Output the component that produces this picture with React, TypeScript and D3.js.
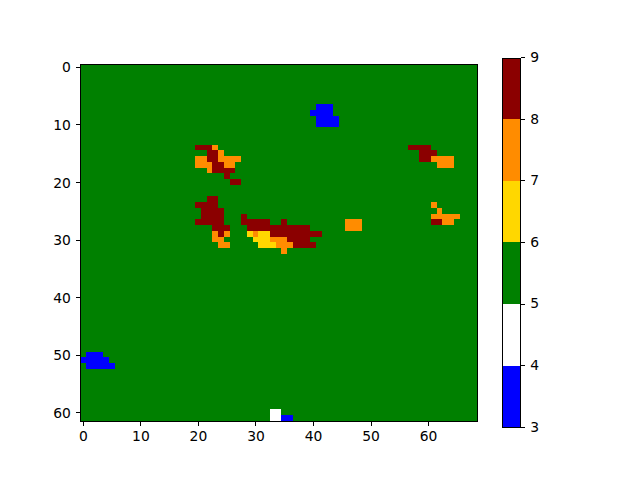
import React, { useEffect, useRef } from "react";
import * as d3 from "d3";

const nCols = 69;
const nRows = 62;
const baseValue = 5;
const boundaries = [3, 4, 5, 6, 7, 8, 9];
const palette = ["#0000ff", "#ffffff", "#008000", "#ffd700", "#ff8c00", "#8b0000"];
const axisTicks = [0, 10, 20, 30, 40, 50, 60];

// Runs: [row, first column, last column]
const blueRuns = [
  [7, 41, 43], [8, 40, 43], [9, 41, 44], [10, 41, 44],
  [50, 1, 3], [51, 0, 4], [52, 1, 5], [61, 35, 36],
];
const whiteRuns = [[60, 33, 34], [61, 33, 34]];
const goldRuns = [
  [29, 29, 29], [29, 31, 32], [30, 30, 32], [31, 31, 33],
];
const orangeRuns = [
  [14, 23, 23], [15, 24, 24], [16, 20, 21], [16, 24, 27], [17, 20, 22], [17, 25, 26], [18, 22, 22],
  [16, 61, 64], [17, 62, 64], [24, 61, 61], [25, 62, 62], [26, 61, 65], [27, 63, 64],
  [27, 46, 48], [28, 46, 48],
  [29, 23, 23], [29, 25, 25], [30, 23, 24], [31, 24, 25],
  [29, 30, 30], [30, 33, 35], [31, 34, 36], [32, 35, 35],
];
const redRuns = [
  [14, 20, 22], [15, 22, 23], [16, 22, 23], [17, 23, 24], [18, 23, 26], [19, 25, 25], [20, 26, 27],
  [14, 57, 60], [15, 59, 61], [16, 59, 60], [27, 61, 62],
  [23, 22, 23], [24, 20, 23], [25, 21, 24], [26, 21, 24], [27, 20, 24], [28, 23, 25], [29, 24, 24],
  [26, 28, 28], [27, 28, 32], [27, 35, 35], [28, 29, 39], [29, 33, 41], [30, 36, 39], [31, 37, 40],
];
const runGroups: [number, number[][]][] = [
  [3, blueRuns], [4, whiteRuns], [6, goldRuns], [7, orangeRuns], [8, redRuns],
];

// Pixel-snapped spine positions
const axX0 = 80.5, axX1 = 477.5, axY0 = 64.5, axY1 = 421.5;
const cbX0 = 502.5, cbX1 = 520.5, cbY0 = 58.5, cbY1 = 427.5;
// True figure geometry for the image and colorbar fill
const imgX0 = 80, imgX1 = 476.8, imgY0 = 64.15, imgY1 = 420.7;
const cbFillY0 = 57.6, cbFillY1 = 427.2;
const font = "'DejaVu Sans'";
const fontSize = 13.89;
const strokeW = 1;
const tickLen = 4.86;
const tickPad = 4.86;

export default function App() {
  const ref = useRef<SVGSVGElement>(null);

  useEffect(() => {
    const svg = d3.select(ref.current);
    svg.selectAll("*").remove();

    const xCell = d3.scaleLinear().domain([-0.5, nCols - 0.5]).range([imgX0, imgX1]);
    const yCell = d3.scaleLinear().domain([-0.5, nRows - 0.5]).range([imgY0, imgY1]);
    const x = d3.scaleLinear().domain([-0.5, nCols - 0.5]).range([axX0, axX1]);
    const y = d3.scaleLinear().domain([-0.5, nRows - 0.5]).range([axY0, axY1]);
    const color = d3.scaleThreshold<number, string>().domain(boundaries.slice(1, -1)).range(palette);

    const grid: number[][] = d3.range(nRows).map(() => d3.range(nCols).map(() => baseValue));
    runGroups.forEach(([v, runs]) => {
      runs.forEach(([r, a, b]) => {
        for (let c = a; c <= b; c++) grid[r][c] = v;
      });
    });
    const cells = grid.flatMap((row, r) => row.map((v, c) => ({ r, c, v })));

    svg.append("g").attr("shape-rendering", "crispEdges")
      .selectAll("rect").data(cells).join("rect")
      .attr("x", d => Math.round(xCell(d.c - 0.5)))
      .attr("y", d => Math.round(yCell(d.r - 0.5)))
      .attr("width", d => Math.round(xCell(d.c + 0.5)) - Math.round(xCell(d.c - 0.5)))
      .attr("height", d => Math.round(yCell(d.r + 0.5)) - Math.round(yCell(d.r - 0.5)))
      .attr("fill", d => color(d.v));

    const styleAxis = (g: any) => {
      g.attr("font-family", font).attr("font-size", fontSize);
      g.select(".domain").remove();
      g.selectAll(".tick line").attr("stroke", "#000").attr("stroke-width", strokeW).attr("shape-rendering", "crispEdges");
      g.selectAll(".tick text").attr("fill", "#000");
    };

    const bottom = svg.append("g").attr("transform", `translate(0,${axY1})`)
      .call(d3.axisBottom(x).offset(0).tickValues(axisTicks).tickFormat(d3.format("d") as any).tickSize(tickLen).tickPadding(tickPad) as any);
    styleAxis(bottom);
    const left = svg.append("g").attr("transform", `translate(${axX0},0)`)
      .call(d3.axisLeft(y).offset(0).tickValues(axisTicks).tickFormat(d3.format("d") as any).tickSize(tickLen).tickPadding(tickPad) as any);
    styleAxis(left);
    left.selectAll(".tick text").attr("dy", "0.36em");

    svg.append("rect")
      .attr("x", axX0).attr("y", axY0)
      .attr("width", axX1 - axX0).attr("height", axY1 - axY0)
      .attr("fill", "none").attr("stroke", "#000").attr("stroke-width", strokeW).attr("shape-rendering", "crispEdges");

    // Colorbar
    const cb = d3.scaleLinear().domain([3, 9]).range([cbFillY1, cbFillY0]);
    svg.append("g").attr("shape-rendering", "crispEdges")
      .selectAll("rect").data(palette).join("rect")
      .attr("x", cbX0).attr("width", cbX1 - cbX0)
      .attr("y", (_, i) => Math.round(cb(boundaries[i + 1])))
      .attr("height", (_, i) => Math.round(cb(boundaries[i])) - Math.round(cb(boundaries[i + 1])))
      .attr("fill", d => d);

    const right = svg.append("g").attr("transform", `translate(${cbX1},0)`)
      .call(d3.axisRight(cb).offset(0).tickValues(boundaries).tickFormat(d3.format("d") as any).tickSize(tickLen).tickPadding(tickPad) as any);
    styleAxis(right);

    svg.append("rect")
      .attr("x", cbX0).attr("y", cbY0)
      .attr("width", cbX1 - cbX0).attr("height", cbY1 - cbY0)
      .attr("fill", "none").attr("stroke", "#000").attr("stroke-width", strokeW).attr("shape-rendering", "crispEdges");
  }, []);

  return (
    <svg
      ref={ref}
      width={640}
      height={480}
      style={{ position: "absolute", left: 0, top: 0, background: "#fff" }}
    />
  );
}
